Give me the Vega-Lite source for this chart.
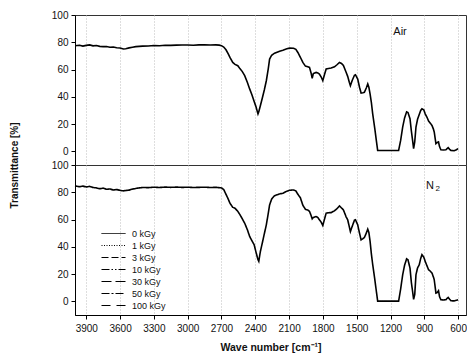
{
 "$schema": "https://vega.github.io/schema/vega-lite/v6.json",
 "background": "white",
 "padding": {"left": 8, "top": 9, "right": 0, "bottom": 0},
 "bounds": "flush",
 "spacing": 0,
 "config": {
  "font": "Liberation Sans",
  "view": {"stroke": "#333", "strokeWidth": 1},
  "axis": {"labelFont": "Liberation Sans", "labelFontSize": 10, "labelColor": "#111", "labelOverlap": false, "labelFlush": false, "tickColor": "#000", "domainColor": "#000", "titleFont": "Liberation Sans", "titleFontWeight": "bold", "titleColor": "#111", "gridColor": "#bdbdbd", "gridDash": [1, 2], "gridWidth": 1}
 },
 "datasets": {
  "spec": [
   {"wn":4000,"air":77.5,"n2":84.6,"dose":"0 kGy"},
   {"wn":3960,"air":77.8,"n2":84.1,"dose":"0 kGy"},
   {"wn":3930,"air":77.2,"n2":84.5,"dose":"0 kGy"},
   {"wn":3900,"air":77.7,"n2":83.9,"dose":"0 kGy"},
   {"wn":3870,"air":78.1,"n2":84.3,"dose":"0 kGy"},
   {"wn":3840,"air":77.4,"n2":83.5,"dose":"0 kGy"},
   {"wn":3810,"air":77.6,"n2":83.2,"dose":"0 kGy"},
   {"wn":3780,"air":77.0,"n2":82.6,"dose":"0 kGy"},
   {"wn":3750,"air":76.8,"n2":83.0,"dose":"0 kGy"},
   {"wn":3720,"air":76.9,"n2":82.2,"dose":"0 kGy"},
   {"wn":3690,"air":76.4,"n2":82.4,"dose":"0 kGy"},
   {"wn":3660,"air":76.5,"n2":81.7,"dose":"0 kGy"},
   {"wn":3630,"air":76.0,"n2":82.0,"dose":"0 kGy"},
   {"wn":3600,"air":75.8,"n2":81.4,"dose":"0 kGy"},
   {"wn":3570,"air":75.1,"n2":81.0,"dose":"0 kGy"},
   {"wn":3550,"air":75.3,"n2":81.3,"dose":"0 kGy"},
   {"wn":3520,"air":75.9,"n2":81.6,"dose":"0 kGy"},
   {"wn":3490,"air":76.4,"n2":82.3,"dose":"0 kGy"},
   {"wn":3460,"air":76.8,"n2":82.8,"dose":"0 kGy"},
   {"wn":3430,"air":77.0,"n2":83.2,"dose":"0 kGy"},
   {"wn":3400,"air":77.2,"n2":83.5,"dose":"0 kGy"},
   {"wn":3350,"air":77.3,"n2":83.4,"dose":"0 kGy"},
   {"wn":3300,"air":77.6,"n2":83.7,"dose":"0 kGy"},
   {"wn":3250,"air":77.5,"n2":83.5,"dose":"0 kGy"},
   {"wn":3200,"air":77.8,"n2":83.8,"dose":"0 kGy"},
   {"wn":3150,"air":77.7,"n2":83.6,"dose":"0 kGy"},
   {"wn":3100,"air":77.9,"n2":83.8,"dose":"0 kGy"},
   {"wn":3050,"air":78.0,"n2":83.6,"dose":"0 kGy"},
   {"wn":3000,"air":78.0,"n2":83.7,"dose":"0 kGy"},
   {"wn":2950,"air":77.8,"n2":83.5,"dose":"0 kGy"},
   {"wn":2900,"air":78.1,"n2":83.6,"dose":"0 kGy"},
   {"wn":2850,"air":78.2,"n2":83.7,"dose":"0 kGy"},
   {"wn":2800,"air":78.0,"n2":83.5,"dose":"0 kGy"},
   {"wn":2750,"air":78.1,"n2":83.6,"dose":"0 kGy"},
   {"wn":2720,"air":77.9,"n2":83.4,"dose":"0 kGy"},
   {"wn":2700,"air":77.5,"n2":83.2,"dose":"0 kGy"},
   {"wn":2680,"air":76.5,"n2":82.0,"dose":"0 kGy"},
   {"wn":2660,"air":74.5,"n2":78.5,"dose":"0 kGy"},
   {"wn":2640,"air":71.5,"n2":75.0,"dose":"0 kGy"},
   {"wn":2625,"air":68.9,"n2":72.0,"dose":"0 kGy"},
   {"wn":2600,"air":65.2,"n2":69.0,"dose":"0 kGy"},
   {"wn":2580,"air":63.8,"n2":68.3,"dose":"0 kGy"},
   {"wn":2555,"air":62.8,"n2":66.0,"dose":"0 kGy"},
   {"wn":2535,"air":60.5,"n2":63.4,"dose":"0 kGy"},
   {"wn":2515,"air":58.5,"n2":60.5,"dose":"0 kGy"},
   {"wn":2494,"air":55.5,"n2":57.3,"dose":"0 kGy"},
   {"wn":2470,"air":50.5,"n2":52.5,"dose":"0 kGy"},
   {"wn":2450,"air":45.8,"n2":47.6,"dose":"0 kGy"},
   {"wn":2430,"air":41.5,"n2":44.5,"dose":"0 kGy"},
   {"wn":2410,"air":36.5,"n2":41.5,"dose":"0 kGy"},
   {"wn":2395,"air":33.0,"n2":36.5,"dose":"0 kGy"},
   {"wn":2376,"air":27.5,"n2":30.5,"dose":"0 kGy"},
   {"wn":2369,"air":29.0,"n2":29.3,"dose":"0 kGy"},
   {"wn":2355,"air":33.5,"n2":36.5,"dose":"0 kGy"},
   {"wn":2338,"air":39.0,"n2":42.7,"dose":"0 kGy"},
   {"wn":2320,"air":45.0,"n2":49.5,"dose":"0 kGy"},
   {"wn":2302,"air":51.8,"n2":56.1,"dose":"0 kGy"},
   {"wn":2285,"air":60.5,"n2":64.5,"dose":"0 kGy"},
   {"wn":2273,"air":67.7,"n2":70.7,"dose":"0 kGy"},
   {"wn":2255,"air":70.5,"n2":75.0,"dose":"0 kGy"},
   {"wn":2229,"air":72.0,"n2":77.5,"dose":"0 kGy"},
   {"wn":2184,"air":73.5,"n2":78.8,"dose":"0 kGy"},
   {"wn":2155,"air":74.2,"n2":79.3,"dose":"0 kGy"},
   {"wn":2120,"air":75.2,"n2":80.8,"dose":"0 kGy"},
   {"wn":2096,"air":75.7,"n2":81.5,"dose":"0 kGy"},
   {"wn":2060,"air":75.6,"n2":81.7,"dose":"0 kGy"},
   {"wn":2040,"air":74.8,"n2":81.0,"dose":"0 kGy"},
   {"wn":2022,"air":72.5,"n2":78.5,"dose":"0 kGy"},
   {"wn":2000,"air":69.0,"n2":76.0,"dose":"0 kGy"},
   {"wn":1978,"air":65.2,"n2":70.5,"dose":"0 kGy"},
   {"wn":1955,"air":62.5,"n2":67.5,"dose":"0 kGy"},
   {"wn":1934,"air":62.0,"n2":67.0,"dose":"0 kGy"},
   {"wn":1919,"air":61.6,"n2":66.0,"dose":"0 kGy"},
   {"wn":1905,"air":57.5,"n2":63.0,"dose":"0 kGy"},
   {"wn":1895,"air":53.5,"n2":60.5,"dose":"0 kGy"},
   {"wn":1885,"air":57.0,"n2":61.5,"dose":"0 kGy"},
   {"wn":1860,"air":57.9,"n2":62.2,"dose":"0 kGy"},
   {"wn":1845,"air":57.5,"n2":61.5,"dose":"0 kGy"},
   {"wn":1831,"air":56.7,"n2":59.8,"dose":"0 kGy"},
   {"wn":1815,"air":54.5,"n2":58.0,"dose":"0 kGy"},
   {"wn":1801,"air":51.8,"n2":55.6,"dose":"0 kGy"},
   {"wn":1785,"air":56.5,"n2":60.5,"dose":"0 kGy"},
   {"wn":1771,"air":60.4,"n2":64.7,"dose":"0 kGy"},
   {"wn":1750,"air":60.8,"n2":65.0,"dose":"0 kGy"},
   {"wn":1727,"air":61.1,"n2":65.1,"dose":"0 kGy"},
   {"wn":1697,"air":62.0,"n2":66.4,"dose":"0 kGy"},
   {"wn":1675,"air":63.5,"n2":68.0,"dose":"0 kGy"},
   {"wn":1653,"air":65.2,"n2":70.0,"dose":"0 kGy"},
   {"wn":1635,"air":64.5,"n2":68.5,"dose":"0 kGy"},
   {"wn":1618,"air":63.0,"n2":67.1,"dose":"0 kGy"},
   {"wn":1594,"air":58.0,"n2":62.0,"dose":"0 kGy"},
   {"wn":1580,"air":55.0,"n2":59.8,"dose":"0 kGy"},
   {"wn":1565,"air":50.5,"n2":54.5,"dose":"0 kGy"},
   {"wn":1556,"air":48.2,"n2":51.2,"dose":"0 kGy"},
   {"wn":1540,"air":52.0,"n2":55.0,"dose":"0 kGy"},
   {"wn":1520,"air":55.8,"n2":59.5,"dose":"0 kGy"},
   {"wn":1511,"air":56.2,"n2":59.8,"dose":"0 kGy"},
   {"wn":1491,"air":53.0,"n2":56.1,"dose":"0 kGy"},
   {"wn":1475,"air":47.0,"n2":50.0,"dose":"0 kGy"},
   {"wn":1461,"air":42.8,"n2":45.1,"dose":"0 kGy"},
   {"wn":1445,"air":43.0,"n2":46.0,"dose":"0 kGy"},
   {"wn":1432,"air":43.3,"n2":46.8,"dose":"0 kGy"},
   {"wn":1415,"air":46.5,"n2":50.0,"dose":"0 kGy"},
   {"wn":1402,"air":49.4,"n2":53.0,"dose":"0 kGy"},
   {"wn":1392,"air":47.0,"n2":50.5,"dose":"0 kGy"},
   {"wn":1381,"air":42.0,"n2":43.9,"dose":"0 kGy"},
   {"wn":1370,"air":36.0,"n2":35.0,"dose":"0 kGy"},
   {"wn":1358,"air":27.5,"n2":27.0,"dose":"0 kGy"},
   {"wn":1340,"air":17.0,"n2":16.5,"dose":"0 kGy"},
   {"wn":1325,"air":7.5,"n2":7.0,"dose":"0 kGy"},
   {"wn":1314,"air":0.7,"n2":0.2,"dose":"0 kGy"},
   {"wn":1250,"air":0.6,"n2":0.2,"dose":"0 kGy"},
   {"wn":1200,"air":0.6,"n2":0.2,"dose":"0 kGy"},
   {"wn":1128,"air":0.7,"n2":0.2,"dose":"0 kGy"},
   {"wn":1110,"air":8.0,"n2":9.0,"dose":"0 kGy"},
   {"wn":1092,"air":17.8,"n2":19.5,"dose":"0 kGy"},
   {"wn":1075,"air":24.5,"n2":26.5,"dose":"0 kGy"},
   {"wn":1057,"air":29.0,"n2":31.2,"dose":"0 kGy"},
   {"wn":1045,"air":28.5,"n2":30.5,"dose":"0 kGy"},
   {"wn":1027,"air":23.9,"n2":24.4,"dose":"0 kGy"},
   {"wn":1015,"air":15.0,"n2":14.0,"dose":"0 kGy"},
   {"wn":1004,"air":8.0,"n2":7.3,"dose":"0 kGy"},
   {"wn":995,"air":2.0,"n2":1.5,"dose":"0 kGy"},
   {"wn":985,"air":7.0,"n2":5.0,"dose":"0 kGy"},
   {"wn":974,"air":17.8,"n2":19.5,"dose":"0 kGy"},
   {"wn":960,"air":23.5,"n2":24.5,"dose":"0 kGy"},
   {"wn":945,"air":27.0,"n2":26.8,"dose":"0 kGy"},
   {"wn":932,"air":30.0,"n2":31.5,"dose":"0 kGy"},
   {"wn":921,"air":31.2,"n2":34.2,"dose":"0 kGy"},
   {"wn":905,"air":30.5,"n2":32.5,"dose":"0 kGy"},
   {"wn":892,"air":27.5,"n2":29.3,"dose":"0 kGy"},
   {"wn":876,"air":25.0,"n2":26.0,"dose":"0 kGy"},
   {"wn":862,"air":22.2,"n2":23.2,"dose":"0 kGy"},
   {"wn":845,"air":20.5,"n2":22.0,"dose":"0 kGy"},
   {"wn":832,"air":19.0,"n2":20.8,"dose":"0 kGy"},
   {"wn":820,"air":16.5,"n2":18.0,"dose":"0 kGy"},
   {"wn":812,"air":14.2,"n2":15.9,"dose":"0 kGy"},
   {"wn":797,"air":5.6,"n2":6.1,"dose":"0 kGy"},
   {"wn":785,"air":6.5,"n2":6.5,"dose":"0 kGy"},
   {"wn":774,"air":6.9,"n2":7.8,"dose":"0 kGy"},
   {"wn":765,"air":3.5,"n2":3.5,"dose":"0 kGy"},
   {"wn":753,"air":1.2,"n2":1.2,"dose":"0 kGy"},
   {"wn":730,"air":1.0,"n2":1.0,"dose":"0 kGy"},
   {"wn":708,"air":1.2,"n2":1.2,"dose":"0 kGy"},
   {"wn":698,"air":2.0,"n2":2.2,"dose":"0 kGy"},
   {"wn":688,"air":2.7,"n2":2.9,"dose":"0 kGy"},
   {"wn":675,"air":1.5,"n2":1.5,"dose":"0 kGy"},
   {"wn":664,"air":0.7,"n2":0.5,"dose":"0 kGy"},
   {"wn":635,"air":0.5,"n2":0.3,"dose":"0 kGy"},
   {"wn":615,"air":1.2,"n2":0.8,"dose":"0 kGy"},
   {"wn":600,"air":2.0,"n2":1.2,"dose":"0 kGy"}
  ]
 },
 "vconcat": [
  {
   "width": 391,
   "height": 150,
   "layer": [
    {
     "data": {"name": "spec"},
     "mark": {"type": "line", "color": "#000", "strokeWidth": 1.6},
     "encoding": {
      "x": {"field": "wn", "type": "quantitative", "scale": {"domain": [530, 4000], "reverse": true, "nice": false, "zero": false},
            "axis": {"values": [600, 900, 1200, 1500, 1800, 2100, 2400, 2700, 3000, 3300, 3600, 3900], "tickCount": 30, "labels": false, "ticks": false, "domain": false, "grid": true, "title": null}},
      "y": {"field": "air", "type": "quantitative", "scale": {"domain": [-10, 100], "nice": false, "zero": false},
            "axis": {"values": [0, 20, 40, 60, 80, 100], "tickCount": 20, "format": "d", "labelOverlap": false, "grid": false, "tickSize": 4, "labelPadding": 3, "title": "Transmittance [%]", "titleX": -56, "titleY": 150, "titleFontSize": 10, "titleAngle": 270}}
     }
    },
    {
     "data": {"values": [{"wn": 1175, "t": 87.2, "label": "Air"}]},
     "mark": {"type": "text", "align": "left", "baseline": "middle", "fontSize": 11, "font": "Liberation Sans", "color": "#111"},
     "encoding": {
      "x": {"field": "wn", "type": "quantitative"},
      "y": {"field": "t", "type": "quantitative"},
      "text": {"field": "label"}
     }
    }
   ]
  },
  {
   "width": 391,
   "height": 150,
   "layer": [
    {
     "data": {"name": "spec"},
     "mark": {"type": "line", "color": "#000", "strokeWidth": 1.6},
     "encoding": {
      "x": {"field": "wn", "type": "quantitative", "scale": {"domain": [530, 4000], "reverse": true, "nice": false, "zero": false},
            "axis": {"values": [600, 900, 1200, 1500, 1800, 2100, 2400, 2700, 3000, 3300, 3600, 3900], "tickCount": 30, "format": "d", "labelOverlap": false, "grid": true, "tickSize": 4, "labelPadding": 4, "title": "Wave number [cm⁻¹]", "titleFontSize": 10.5, "titlePadding": 9}},
      "y": {"field": "n2", "type": "quantitative", "scale": {"domain": [-10, 100], "nice": false, "zero": false},
            "axis": {"values": [0, 20, 40, 60, 80, 100], "tickCount": 20, "format": "d", "labelOverlap": false, "grid": false, "tickSize": 4, "labelPadding": 3, "title": null}},
      "strokeDash": {"field": "dose", "type": "nominal",
            "scale": {"domain": ["0 kGy", "1 kGy", "3 kGy", "10 kGy", "30 kGy", "50 kGy", "100 kGy"], "range": [[1, 0], [1, 1.5], [7, 3], [8, 2, 1.5, 2, 1.5, 2], [10, 4], [8, 2, 2, 2], [9, 6]]},
            "legend": {"orient": "none", "legendX": 25, "legendY": 214, "title": null, "symbolType": "M-1,0H7", "symbolSize": 36, "symbolStrokeWidth": 1, "symbolStrokeColor": "#000", "labelFontSize": 9, "labelColor": "#111", "labelOffset": 23, "rowPadding": 2, "padding": 0}}
     }
    },
    {
     "data": {"values": [{"wn": 885, "t": 84.9, "label": "N", "size": "big"}, {"wn": 800, "t": 82.4, "label": "2", "size": "small"}]},
     "mark": {"type": "text", "align": "left", "baseline": "middle", "font": "Liberation Sans", "color": "#111"},
     "encoding": {
      "x": {"field": "wn", "type": "quantitative"},
      "y": {"field": "t", "type": "quantitative"},
      "text": {"field": "label"},
      "size": {"field": "size", "type": "nominal", "scale": {"domain": ["big", "small"], "range": [11, 8]}, "legend": null}
     }
    }
   ]
  }
 ]
}
